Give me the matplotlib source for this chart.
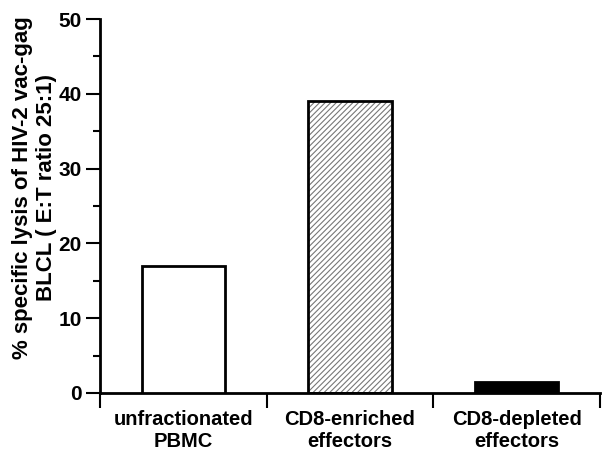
import matplotlib
matplotlib.use("Agg")
import matplotlib.pyplot as plt

categories = ["unfractionated\nPBMC", "CD8-enriched\neffectors", "CD8-depleted\neffectors"]
values = [17, 39, 1.5]
yticks = [0, 10, 20, 30, 40, 50]

plt.rcParams['font.family'] = ['Liberation Sans', 'DejaVu Sans']
plt.rcParams['font.weight'] = 'bold'
plt.rcParams['hatch.linewidth'] = 0.8

fig = plt.figure(figsize=(6.02, 4.55), dpi=100)
ax = fig.add_axes([100/602, 62/455, 500/602, 374/455])

x = list(range(len(categories)))
fills = ['white', 'white', 'black']
# hatch layer for the middle bar
ax.bar([x[1]], [values[1]], width=0.5, color='white', edgecolor='#777777',
       hatch='//////', linewidth=0, zorder=2)
for i in x:
    ax.bar([i], [values[i]], width=0.5, color=fills[i] if i != 1 else 'none',
           edgecolor='black', linewidth=2, zorder=3)

ax.set_xlim(-0.5, 2.5)
ax.set_ylim(0, 50)
ax.set_yticks(yticks)
ax.set_yticks([5, 15, 25, 35, 45], minor=True)
ax.set_xticks([-0.5, 0.5, 1.5, 2.5])
ax.set_xticklabels([])
ax.set_xticks(x, minor=True)
ax.set_xticklabels(categories, minor=True, fontsize=14.5, fontweight='bold')
ax.tick_params(axis='x', which='minor', length=0, pad=12)
ax.tick_params(axis='x', which='major', direction='out', length=11, width=1.5)
ax.tick_params(axis='y', which='major', direction='out', length=10, width=1.5, labelsize=15, pad=3)
ax.tick_params(axis='y', which='minor', direction='out', length=5, width=1.5)
for lab in ax.get_yticklabels():
    lab.set_fontweight('bold')
ax.spines['top'].set_visible(False)
ax.spines['right'].set_visible(False)
ax.spines['left'].set_linewidth(2)
ax.spines['bottom'].set_linewidth(2)
ax.set_ylabel("% specific lysis of HIV-2 vac-gag\nBLCL ( E:T ratio 25:1)",
              fontsize=16, fontweight='bold', linespacing=1.2)
ax.yaxis.set_label_coords(-0.085, 0.55)

fig.savefig("out.png", dpi=100)
